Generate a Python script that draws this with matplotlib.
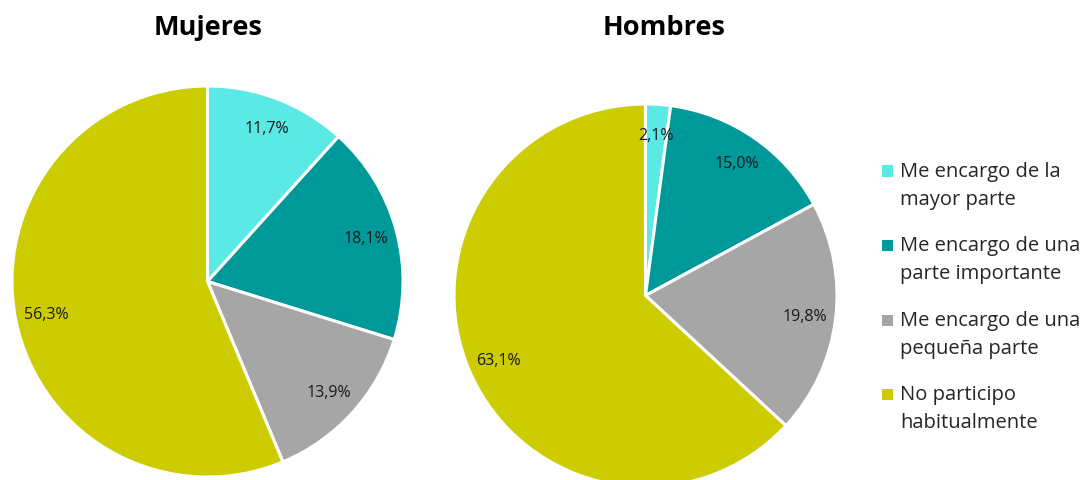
import matplotlib
matplotlib.use("Agg")
import matplotlib.pyplot as plt
from matplotlib.patches import Rectangle

plt.rcParams['font.family'] = ['Open Sans', 'DejaVu Sans']

categories = ["Me encargo de la\nmayor parte",
              "Me encargo de una\nparte importante",
              "Me encargo de una\npequeña parte",
              "No participo\nhabitualmente"]
mujeres = [11.7, 18.1, 13.9, 56.3]
hombres = [2.1, 15.0, 19.8, 63.1]
colors = ['#5BE9E6', '#009999', '#A6A6A6', '#CCCC00']

W, H = 1090, 481
fig = plt.figure(figsize=(W / 100, H / 100), dpi=100)


def fmt(p):
    return f"{p:.1f}".replace(".", ",") + "%"


def draw_pie(values, cx, cy, r, title, tx):
    # axes box in pixels so the pie radius lands where we want it
    ax = fig.add_axes([(cx - r) / W, (H - cy - r) / H, 2 * r / W, 2 * r / H])
    ax.pie(values, colors=colors, startangle=90, counterclock=False,
           autopct=fmt, pctdistance=0.84,
           wedgeprops=dict(edgecolor='white', linewidth=2.2),
           textprops=dict(fontsize=11.5, color='#1a1a1a'))
    ax.set_xlim(-1, 1)
    ax.set_ylim(-1, 1)
    ax.set_aspect('equal')
    fig.text(tx / W, 1 - 28 / H, title, ha='center', va='center',
             fontsize=19.5, fontweight='bold', color='black')


draw_pie(mujeres, 207.5, 282.5, 195.5, "Mujeres", 208)
draw_pie(hombres, 645.5, 296.5, 191.5, "Hombres", 664)

# legend drawn by hand: square on the first text line, each line placed on its own
for i, (lab, col) in enumerate(zip(categories, colors)):
    y = 172 + i * 74.5
    fig.add_artist(Rectangle((882 / W, 1 - (y + 5.5) / H), 11 / W, 11 / H,
                             transform=fig.transFigure, facecolor=col,
                             edgecolor='none'))
    for j, line in enumerate(lab.split("\n")):
        fig.text(900 / W, 1 - (y + 28 * j) / H, line, ha='left', va='center',
                 fontsize=14.5, color='#262626')

fig.savefig("out.png", dpi=100)
